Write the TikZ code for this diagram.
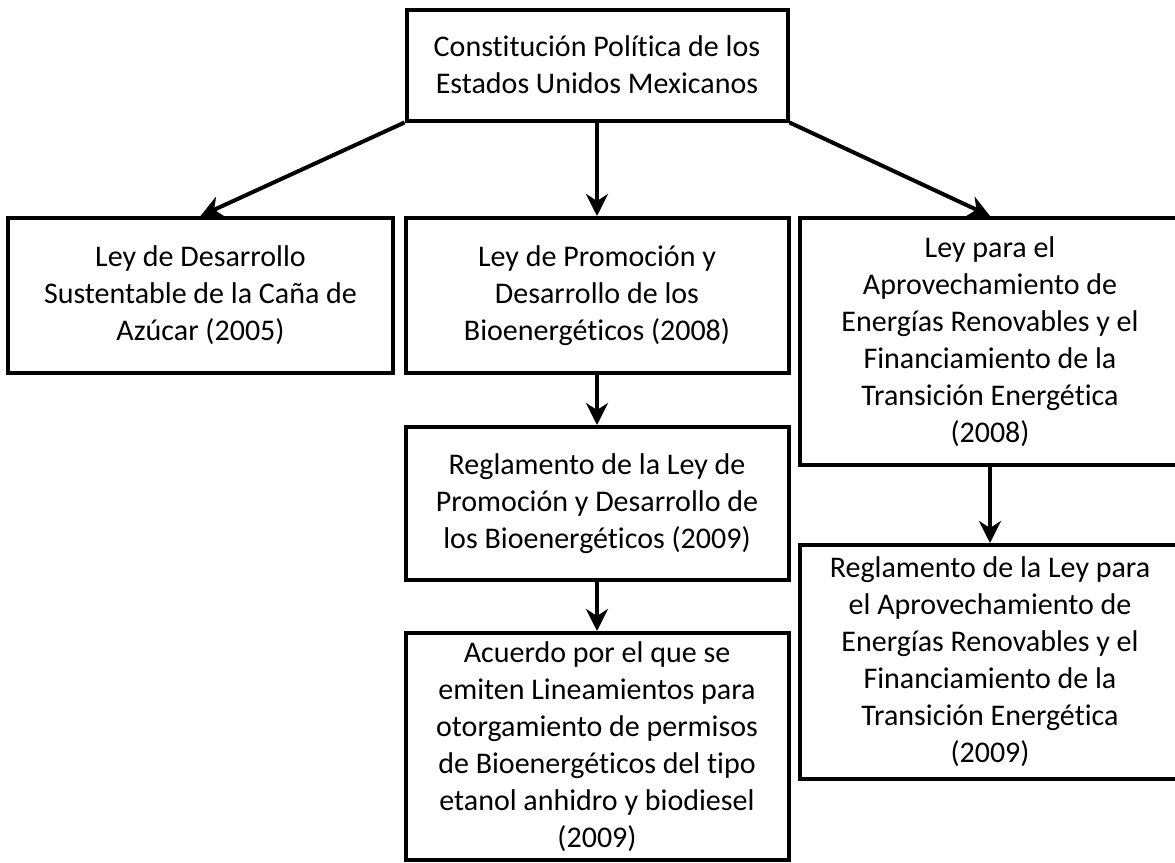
\documentclass[tikz,border=0pt]{standalone}
\usepackage{fontspec}
\setmainfont{Carlito}[Ligatures=NoCommon]
\usetikzlibrary{arrows.meta}

\begin{document}
\begin{tikzpicture}[x=1pt, y=-1pt, every node/.style={font=\fontsize{30}{37}\selectfont}]
\tikzset{
  box/.style={draw, line width=4pt, rectangle, align=center, inner sep=0pt},
  arr/.style={line width=4pt, -{Stealth[length=22pt, width=22pt, inset=7pt]}}
}
\useasboundingbox (0,0) rectangle (1175,862);
\clip (0,0) rectangle (1175,862);

% --- Constitucion ---
\node[box, minimum width=381pt, minimum height=111pt] (cpeum) at (597,65)
  {Constitución Política de los\\Estados Unidos Mexicanos};

% --- leyes ---
\node[box, minimum width=385pt, minimum height=155pt] (ldscca) at (200.5,295.5)
  {Ley de Desarrollo\\Sustentable de la Caña de\\Azúcar (2005)};
\node[box, minimum width=383pt, minimum height=155pt] (lpdb) at (597,295.5)
  {Ley de Promoción y\\Desarrollo de los\\Bioenergéticos (2008)};
\node[box, minimum width=380pt, minimum height=247pt] (laerfte) at (990,341.5)
  {Ley para el\\Aprovechamiento de\\Energías Renovables y el\\Financiamiento de la\\Transición Energética\\(2008)};

% --- reglamentos ---
\node[box, minimum width=383pt, minimum height=153pt] (rlpdb) at (597,503.5)
  {Reglamento de la Ley de\\Promoción y Desarrollo de\\los Bioenergéticos (2009)};
\node[box, minimum width=380pt, minimum height=234pt] (rlaerfte) at (990,662)
  {Reglamento de la Ley para\\el Aprovechamiento de\\Energías Renovables y el\\Financiamiento de la\\Transición Energética\\(2009)};

% --- acuerdo ---
\node[box, minimum width=383pt, minimum height=227pt] (acuerdo) at (597,746.5)
  {Acuerdo por el que se\\emiten Lineamientos para\\otorgamiento de permisos\\de Bioenergéticos del tipo\\etanol anhidro y biodiesel\\(2009)};

\draw[arr] (cpeum.south west) -- (ldscca.north);
\draw[arr] (cpeum.south) -- (lpdb.north);
\draw[arr] (cpeum.south east) -- (laerfte.north);
\draw[arr] (lpdb.south) -- (rlpdb.north);
\draw[arr] (rlpdb.south) -- (acuerdo.north);
\draw[arr] (laerfte.south) -- (rlaerfte.north);
\end{tikzpicture}
\end{document}
